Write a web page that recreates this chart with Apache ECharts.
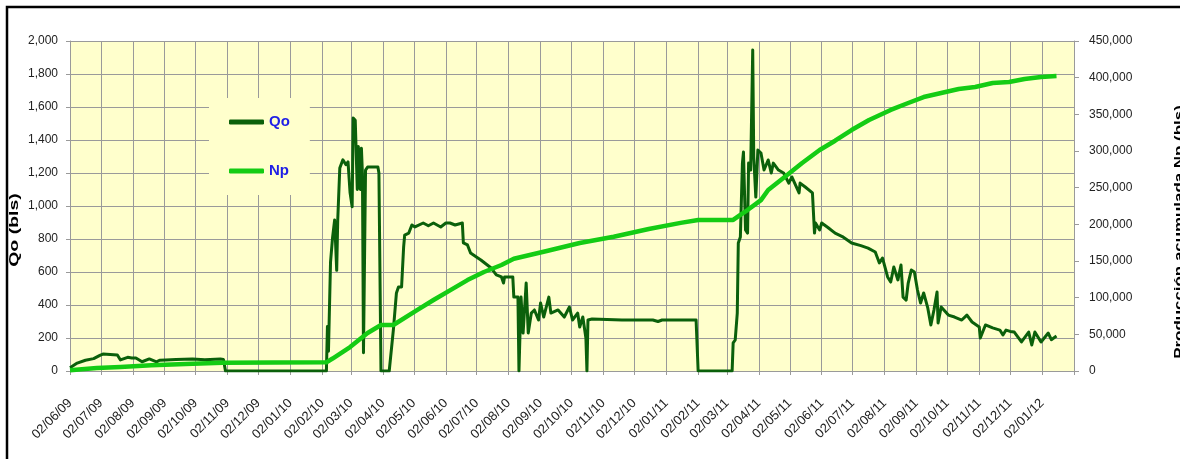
<!DOCTYPE html>
<html>
<head>
<meta charset="utf-8">
<script src="https://cdn.jsdelivr.net/npm/echarts@6/dist/echarts.min.js"></script>
<style>
  html, body { margin: 0; padding: 0; background: #ffffff; }
  #chart { width: 1180px; height: 459px; }
</style>
</head>
<body>
<div id="chart"></div>
<script>
// Daily date axis range
const START_DATE = '2009-06-02';
const END_DATE = '2012-02-02';

// Qo: daily oil rate (bls)
const qoDates = [
  '2009-06-02','2009-06-09','2009-06-17','2009-06-25','2009-07-01','2009-07-04','2009-07-11','2009-07-18',
  '2009-07-21','2009-07-28','2009-08-01','2009-08-05','2009-08-11','2009-08-18','2009-08-25','2009-08-28',
  '2009-09-03','2009-09-13','2009-09-29','2009-10-11','2009-10-26','2009-10-29','2009-10-31',
  '2010-02-06','2010-02-07','2010-02-08','2010-02-10','2010-02-12','2010-02-14','2010-02-16','2010-02-17',
  '2010-02-19','2010-02-22','2010-02-25','2010-02-27','2010-03-01','2010-03-03','2010-03-04','2010-03-06',
  '2010-03-08','2010-03-09','2010-03-11','2010-03-12','2010-03-13','2010-03-14','2010-03-16','2010-03-18',
  '2010-03-23','2010-03-28','2010-03-29','2010-03-31','2010-04-08','2010-04-12','2010-04-15','2010-04-17',
  '2010-04-20','2010-04-22','2010-04-23','2010-04-27','2010-04-30','2010-05-03','2010-05-11','2010-05-16',
  '2010-05-21','2010-05-28','2010-06-02','2010-06-06','2010-06-11','2010-06-18','2010-06-19','2010-06-23',
  '2010-06-26','2010-07-02','2010-07-06','2010-07-16','2010-07-21','2010-07-26','2010-07-28','2010-07-29',
  '2010-08-06','2010-08-07','2010-08-11','2010-08-12','2010-08-14','2010-08-16','2010-08-19','2010-08-21',
  '2010-08-24','2010-08-27','2010-08-31','2010-09-02','2010-09-05','2010-09-10','2010-09-12','2010-09-19',
  '2010-09-25','2010-09-30','2010-10-03','2010-10-08','2010-10-10','2010-10-13','2010-10-16','2010-10-17',
  '2010-10-18','2010-10-22','2010-11-20','2010-12-20','2010-12-25','2010-12-29','2011-01-03','2011-01-31',
  '2011-02-02','2011-03-07','2011-03-08','2011-03-10','2011-03-12','2011-03-13','2011-03-15','2011-03-17',
  '2011-03-18','2011-03-20','2011-03-22','2011-03-23','2011-03-25','2011-03-27','2011-03-28','2011-03-30',
  '2011-04-01','2011-04-04','2011-04-07','2011-04-11','2011-04-14','2011-04-16','2011-04-21','2011-04-26',
  '2011-05-01','2011-05-04','2011-05-11','2011-05-12','2011-05-17','2011-05-24','2011-05-26','2011-05-27',
  '2011-05-31','2011-06-02','2011-06-08','2011-06-15','2011-06-22','2011-07-01','2011-07-10','2011-07-17',
  '2011-07-24','2011-07-28','2011-07-31','2011-08-05',
  '2011-08-08','2011-08-11','2011-08-15','2011-08-18','2011-08-20','2011-08-23','2011-08-25','2011-08-28',
  '2011-08-31','2011-09-03','2011-09-06','2011-09-09','2011-09-13','2011-09-16','2011-09-19','2011-09-22',
  '2011-09-23','2011-09-26','2011-10-03','2011-10-09','2011-10-16','2011-10-21','2011-10-26','2011-11-02',
  '2011-11-03','2011-11-08','2011-11-15','2011-11-22','2011-11-25','2011-11-28','2011-12-02','2011-12-06',
  '2011-12-13','2011-12-20','2011-12-23','2011-12-26','2012-01-01','2012-01-08','2012-01-11','2012-01-16'
];
const qoValues = [
  20, 48, 65, 75, 95, 103, 100, 97,
  67, 83, 79, 79, 56, 73, 55, 65,
  67, 69, 73, 68, 73, 70, 0,
  0, 270, 120, 660, 810, 915, 610, 915,
  1230, 1280, 1250, 1267, 1080, 995, 1533, 1520,
  1100, 1360, 1100, 1350, 1190, 110, 1218, 1236,
  1236, 1236, 1200, 0, 0, 248, 473, 509,
  509, 752, 824, 836, 885, 873, 897, 880,
  897, 873, 897, 897, 885, 897, 776, 764,
  715, 690, 673, 624, 582, 570, 533, 570,
  570, 448, 448, 0, 448, 230, 533, 230,
  351, 370, 309, 412, 327, 448, 351, 370,
  327, 388, 309, 351, 267, 327, 200, 0,
  309, 315, 309, 309, 300, 309, 309, 309,
  0, 0, 170, 188, 351, 776, 812, 1260,
  1327, 855, 836, 1260, 1218, 1945, 1297, 1054,
  1339, 1321, 1218, 1279, 1200, 1260, 1218, 1200,
  1139, 1176, 1079, 1139, 1115, 1079, 836, 897,
  855, 897, 870, 836, 815, 776, 760, 745,
  721, 655, 685, 570,
  539, 630, 552, 642, 448, 430, 533, 612,
  600, 491, 412, 473, 382, 279, 370, 479,
  291, 388, 339, 327, 309, 339, 297, 267,
  200, 279, 261, 248, 218, 248, 240, 236,
  176, 236, 158, 236, 176, 230, 190, 212
];

// Np: cumulative production (bls)
const npDates = [
  '2009-06-02','2009-06-28','2009-07-21','2009-08-20','2009-09-22','2009-10-28','2010-02-06','2010-02-12',
  '2010-03-01','2010-03-18','2010-03-31','2010-04-12','2010-05-05','2010-05-21','2010-06-06','2010-06-23',
  '2010-07-09','2010-07-26','2010-08-07','2010-09-09','2010-10-10','2010-11-12','2010-12-16','2011-01-16',
  '2011-02-02','2011-03-08','2011-03-15','2011-03-22','2011-04-04','2011-04-11','2011-04-27','2011-05-14',
  '2011-05-31','2011-06-15','2011-07-01','2011-07-18','2011-08-08','2011-08-25','2011-09-09','2011-09-26',
  '2011-10-13','2011-10-29','2011-11-15','2011-12-01','2011-12-16','2012-01-01','2012-01-16'
];
const npValues = [
  1000, 4000, 5500, 8000, 9500, 11300, 11800, 17000,
  32700, 51800, 62700, 62700, 83000, 96800, 110000, 124000,
  135000, 144500, 153000, 164000, 174500, 183000, 193600, 202000,
  206000, 206000, 213000, 219500, 233000, 246800, 264500, 283600,
  301400, 314000, 328600, 342300, 356000, 365500, 373600, 379000,
  384500, 387300, 392700, 394000, 398200, 400900, 402300
];

// Build the daily category list
const days = [];
for (let t = Date.UTC(2009, 5, 2); t <= Date.UTC(2012, 1, 2); t += 86400000) {
  days.push(new Date(t).toISOString().slice(0, 10));
}
const dayIndex = {};
days.forEach((d, i) => { dayIndex[d] = i; });
const toPairs = (dates, values) => dates.map((d, i) => [dayIndex[d], values[i]]);

const isMonthTick = (index) => days[index].slice(8) === '02';
const isMonthLabel = (index) => isMonthTick(index) && index !== days.length - 1;
const fmtDay = (iso) => iso.slice(8, 10) + '/' + iso.slice(5, 7) + '/' + iso.slice(2, 4);
const thousands = (v) => String(v).replace(/\B(?=(\d{3})+(?!\d))/g, ',');

const GRID_LINE = '#9a9a9a';
const TICK_FONT = 'Liberation Sans';

const chart = echarts.init(document.getElementById('chart'), null, { renderer: 'canvas' });
chart.setOption({
  animation: false,
  backgroundColor: '#ffffff',
  grid: {
    left: 70, right: 106, top: 41, bottom: 88,
    show: true, backgroundColor: '#FFFFCC', borderWidth: 0
  },
  legend: {
    orient: 'vertical',
    left: 209, top: 98,
    padding: [15, 20, 15, 20],
    backgroundColor: '#FFFFCC',
    icon: 'roundRect',
    itemWidth: 35, itemHeight: 5,
    itemGap: 31,
    textStyle: { color: '#1f1fe6', fontWeight: 'bold', fontSize: 15, fontFamily: TICK_FONT, lineHeight: 18 },
    data: ['Qo', 'Np']
  },
  xAxis: {
    type: 'category',
    data: days,
    boundaryGap: false,
    axisLine: { show: true, lineStyle: { color: GRID_LINE } },
    axisTick: { show: true, interval: isMonthTick, length: 4, lineStyle: { color: GRID_LINE } },
    splitLine: { show: true, interval: isMonthTick, lineStyle: { color: GRID_LINE, width: 1 } },
    axisLabel: {
      interval: isMonthLabel, rotate: 45, margin: 30,
      color: '#222', fontSize: 13, fontFamily: TICK_FONT,
      formatter: (v) => fmtDay(v)
    }
  },
  yAxis: [
    {
      type: 'value', min: 0, max: 2000, interval: 200,
      axisLine: { show: true, lineStyle: { color: GRID_LINE } },
      axisTick: { show: true, length: 4, lineStyle: { color: GRID_LINE } },
      splitLine: { show: true, lineStyle: { color: GRID_LINE, width: 1 } },
      axisLabel: { margin: 12, color: '#222', fontSize: 12, fontFamily: TICK_FONT, formatter: thousands }
    },
    {
      type: 'value', min: 0, max: 450000, interval: 50000, position: 'right',
      axisLine: { show: true, lineStyle: { color: GRID_LINE } },
      axisTick: { show: true, length: 5, lineStyle: { color: GRID_LINE } },
      splitLine: { show: false },
      axisLabel: { margin: 15, color: '#222', fontSize: 12, fontFamily: TICK_FONT, formatter: thousands }
    }
  ],
  series: [
    {
      name: 'Qo', type: 'line', yAxisIndex: 0,
      data: toPairs(qoDates, qoValues),
      showSymbol: false, symbol: 'none',
      color: '#0b600b',
      lineStyle: { color: '#0b600b', width: 3, join: 'round' },
      z: 2
    },
    {
      name: 'Np', type: 'line', yAxisIndex: 1,
      data: toPairs(npDates, npValues),
      showSymbol: false, symbol: 'none',
      color: '#14cc14',
      lineStyle: { color: '#14cc14', width: 4.5, join: 'round' },
      z: 3
    }
  ],
  graphic: [
    {
      type: 'polyline', z: 10, silent: true,
      shape: { points: [[7, 459], [7, 7], [1180, 7]] },
      style: { stroke: '#000', lineWidth: 2.5, fill: null }
    },
    {
      type: 'text', x: 14, y: 230, rotation: Math.PI / 2, scaleX: 1.5, z: 10, silent: true,
      style: { text: 'Qo (bls)', font: 'bold 13px "Liberation Sans"', fill: '#000', align: 'center', verticalAlign: 'middle' }
    },
    {
      type: 'text', x: 1179, y: 232, rotation: Math.PI / 2, scaleX: 1.3, z: 10, silent: true,
      style: { text: 'Producción acumulada Np (bls)', font: 'bold 13px "Liberation Sans"', fill: '#000', align: 'center', verticalAlign: 'middle' }
    }
  ]
});
</script>
</body>
</html>
